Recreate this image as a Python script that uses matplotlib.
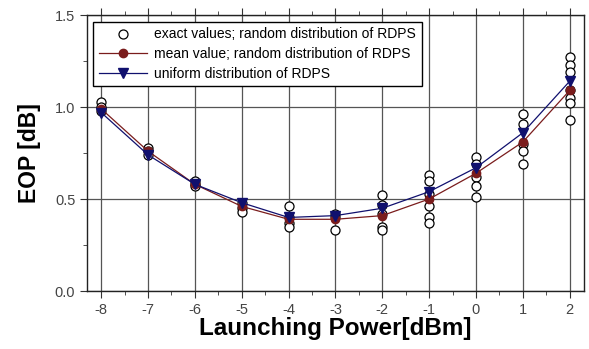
import numpy as np
import matplotlib
matplotlib.use("Agg")
import matplotlib.pyplot as plt
from matplotlib.ticker import MultipleLocator, FormatStrFormatter

plt.rcParams["font.family"] = ["Liberation Sans", "DejaVu Sans"]
plt.rcParams["axes.unicode_minus"] = False

# launching power [dBm]
power = [-8, -7, -6, -5, -4, -3, -2, -1, 0, 1, 2]

# exact values, random distribution of RDPS (several runs per power)
exact_values = [
    [1.03, 1.00, 0.98],
    [0.78, 0.76, 0.74],
    [0.60, 0.58, 0.57],
    [0.48, 0.45, 0.43],
    [0.46, 0.40, 0.37, 0.35],
    [0.42, 0.40, 0.33],
    [0.52, 0.47, 0.42, 0.35, 0.33],
    [0.63, 0.60, 0.53, 0.46, 0.40, 0.37],
    [0.73, 0.69, 0.62, 0.57, 0.51],
    [0.96, 0.91, 0.80, 0.76, 0.69],
    [1.27, 1.23, 1.19, 1.09, 1.05, 1.02, 0.93],
]
mean_values = [0.99, 0.76, 0.58, 0.46, 0.39, 0.39, 0.41, 0.50, 0.64, 0.81, 1.09]
uniform_values = [0.97, 0.74, 0.58, 0.48, 0.40, 0.41, 0.45, 0.54, 0.67, 0.86, 1.14]

fig = plt.figure(figsize=(5.89, 3.49), dpi=100)
ax = fig.add_axes([0.148, 0.166, 0.843, 0.791])

ax.grid(True, which="major", color="#555555", lw=0.9)
ax.set_axisbelow(True)

ex_x = [p for p, vals in zip(power, exact_values) for _ in vals]
ex_y = [v for vals in exact_values for v in vals]
ax.plot(ex_x, ex_y, ls="none", marker="o", ms=6.5, mfc="white", mec="black",
        mew=0.9, label="exact values; random distribution of RDPS", zorder=3)
ax.plot(power, mean_values, color="#7a1c1c", lw=0.9, marker="o", ms=6,
        mfc="#7a1c1c", mec="#7a1c1c",
        label="mean value; random distribution of RDPS", zorder=4)
ax.plot(power, uniform_values, color="#10106e", lw=0.9, marker="v", ms=7,
        mfc="#10106e", mec="#10106e",
        label="uniform distribution of RDPS", zorder=5)

ax.set_xlim(-8.3, 2.3)
ax.set_ylim(0, 1.5)
ax.set_xticks(power)
ax.xaxis.set_minor_locator(MultipleLocator(0.5))
ax.set_yticks([0.0, 0.5, 1.0, 1.5])
ax.yaxis.set_minor_locator(MultipleLocator(0.25))
ax.yaxis.set_major_formatter(FormatStrFormatter("%.1f"))
ax.tick_params(which="both", direction="out", labelsize=10.5, labelcolor="#444444",
               color="#333333")
ax.tick_params(which="major", length=5)
ax.tick_params(which="minor", length=3)
ax.tick_params(axis="x", which="both", top=True)
for spine in ax.spines.values():
    spine.set_color("#222222")
    spine.set_linewidth(1.0)

ax.set_xlabel("Launching Power[dBm]", fontsize=17.5, fontweight="bold", labelpad=0)
ax.set_ylabel("EOP [dB]", fontsize=16.5, fontweight="bold", labelpad=10)

leg = ax.legend(loc="upper left", bbox_to_anchor=(0.012, 0.975), fontsize=10,
                frameon=True, fancybox=False, edgecolor="black", framealpha=1,
                handlelength=3.5, handletextpad=0.5, borderpad=0.4,
                labelspacing=0.4, borderaxespad=0)
leg.get_frame().set_linewidth(1.0)

fig.savefig("out.png", dpi=100)
plt.close(fig)
